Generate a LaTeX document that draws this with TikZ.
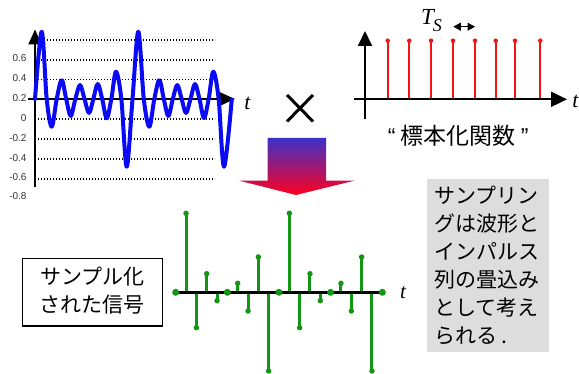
\documentclass[tikz,border=0pt]{standalone}
\usepackage{fontspec}
\setsansfont{Liberation Sans}
\newfontfamily\jp{Noto Sans CJK JP}
\newfontfamily\tms{Liberation Serif}
\usetikzlibrary{arrows.meta}
\definecolor{wavecol}{RGB}{10,10,245}
\definecolor{sampcol}{RGB}{20,150,20}
\definecolor{impcol}{RGB}{245,20,20}
\definecolor{boxgray}{RGB}{221,221,221}
\definecolor{arrtop}{RGB}{60,50,200}
\definecolor{arrmid}{RGB}{200,35,130}
\definecolor{arrbot}{RGB}{255,0,30}
\begin{document}
\begin{tikzpicture}[x=1pt,y=-1pt,
  axisarrow/.style={line width=2pt,-{Triangle[length=15pt,width=13pt]}},
  gridline/.style={line width=1.3pt,dash pattern=on 1.2pt off 1.8pt},
  ticklbl/.style={font=\sffamily\fontsize{10}{10}\selectfont,text=black!80,anchor=east,inner sep=0pt},
  tlbl/.style={font=\tms\itshape\fontsize{22}{22}\selectfont,inner sep=0pt,anchor=base},
  jptext/.style={font=\jp\fontsize{21}{28}\selectfont,inner sep=0pt},
  stem/.style={sampcol,line width=3pt},
  enddot/.style={circle,fill=sampcol,inner sep=0pt,minimum size=5.5pt},
  zerodot/.style={circle,fill=sampcol,inner sep=0pt,minimum size=7pt},
  redstem/.style={impcol,line width=1.7pt},
  reddot/.style={circle,fill=impcol,inner sep=0pt,minimum size=4.5pt}]
\useasboundingbox (0,0) rectangle (579,374);

% ---------- top-left: waveform ----------
\foreach \yy in {40,60,79.3,119,139,159,179}
  \draw[gridline] (35,\yy) -- (215,\yy);
\node[ticklbl] (l06) at (26.7,58) {0.6};
\node[ticklbl] (l04) at (26.7,78) {0.4};
\node[ticklbl] (l02) at (26.7,98) {0.2};
\node[ticklbl] (l00) at (26.7,118) {0};
\node[ticklbl] (lm02) at (26.7,138) {-0.2};
\node[ticklbl] (lm04) at (26.7,158) {-0.4};
\node[ticklbl] (lm06) at (26.7,177.5) {-0.6};
\node[ticklbl] (lm08) at (26.7,196.3) {-0.8};
\coordinate (wyb) at (35,186.7);
\coordinate (wyt) at (35,29.5);
\coordinate (wxl) at (28,99);
\coordinate (wxr) at (235,99);
\draw[axisarrow] (wyb) -- (wyt);
\draw[axisarrow] (wxl) -- (wxr);
\node[tlbl] (wt) at (247.5,109.5) {t};
\draw[wavecol,line width=4pt,line join=round,line cap=round]
  plot[smooth,tension=0.55] coordinates {
  (35,99) (41.7,31.7) (46.7,99) (51.7,126.7) (56.7,99) (61.7,80) (66.2,99)
  (70.7,116) (75.35,99) (80,85) (84.5,99) (89,113) (93.35,99) (97.7,84)
  (102.2,99) (106.7,118.3) (111.35,99) (116,71.7) (121.35,99) (126.7,166.7)
  (132.5,99) (138.3,31.7) (143.8,99) (149.3,126.7) (154.3,99) (159.3,80)
  (163.8,99) (168.3,116) (172.8,99) (177.3,85) (181.65,99) (186,113)
  (190.5,99) (195,84) (199.5,99) (204,118) (208.65,99) (213.3,71.7)
  (218.65,99) (224,166.7) (231.7,100)};

% ---------- times sign ----------
\coordinate (xa) at (287,95);
\coordinate (xb) at (313,121.5);
\coordinate (xc) at (313,95);
\coordinate (xd) at (287,121.5);
\draw[line width=3pt] (xa) -- (xb) (xc) -- (xd);

% ---------- top-right: impulse train ----------
\foreach \x [count=\i] in {387.7,409.3,431,453,475,495.7,515,540.3}{
  \coordinate (rb\i) at (\x,99.3);
  \node[reddot] (rt\i) at (\x,40.7) {};
  \draw[redstem] (rb\i) -- (rt\i.center);
}
\coordinate (iyb) at (365,119.3);
\coordinate (iyt) at (365,31);
\coordinate (ixl) at (354,99.3);
\coordinate (ixr) at (567,99.3);
\draw[line width=2pt,-{Triangle[length=15pt,width=14pt]}] (iyb) -- (iyt);
\draw[line width=2pt,-{Triangle[length=16pt,width=15pt]}] (ixl) -- (ixr);
\node[tlbl] (it) at (575.5,107.5) {t};
\node[font=\tms\itshape\fontsize{23}{23}\selectfont,inner sep=0pt,anchor=base west] (ts)
  at (421,25) {T\kern-1pt\raisebox{-7pt}{\fontsize{18}{18}\selectfont S}};
\coordinate (tsa) at (453.3,26.7);
\coordinate (tsb) at (475,26.7);
\draw[line width=1.2pt,{Triangle[length=7.5pt,width=8pt]}-{Triangle[length=7.5pt,width=8pt]}] (tsa) -- (tsb);
\node[font=\jp\fontsize{23}{23}\selectfont,inner sep=0pt,anchor=base] (sfn) at (458.3,145)
  {{\sffamily “} 標本化関数 {\sffamily ”}};

% ---------- gradient arrow ----------
\shade[top color=arrtop,middle color=arrmid,bottom color=arrbot]
  (267.7,138) -- (326,138) -- (326,180.7) -- (354.3,180.7) -- (296,195)
  -- (239.3,180.7) -- (267.7,180.7) -- cycle;

% ---------- sampled signal ----------
\foreach \k/\v in {1/79,2/-35.4,3/18.6,4/-8.4,6/9,7/-18.7,8/35.3,9/-78.7,
                   11/79,12/-35.4,13/18.6,14/-8.4,16/9,17/-18.7,18/35.3,19/-78.7}{
  \pgfmathsetmacro{\sx}{175.7+10.33*\k}
  \pgfmathsetmacro{\sy}{292.3-\v}
  \coordinate (sb\k) at (\sx,292.3);
  \node[enddot] (se\k) at (\sx,\sy) {};
  \draw[stem] (sb\k) -- (se\k.center);
}
\coordinate (sal) at (175.7,292.3);
\coordinate (sar) at (382.3,292.3);
\draw[line width=3pt] (sal) -- (sar);
\foreach \k in {0,5,10,15,20}{
  \pgfmathsetmacro{\sx}{175.7+10.33*\k}
  \node[zerodot] (sz\k) at (\sx,292.3) {};
}
\node[tlbl,font=\tms\itshape\fontsize{21}{21}\selectfont] (st) at (403,298.5) {t};

% ---------- label box ----------
\node[draw,line width=1.3pt,minimum width=140pt,minimum height=67.7pt,inner sep=0pt] (sbox) at (92.3,292.2) {};
\node[jptext,align=center,anchor=north] (stext) at (92.3,266.7) {サンプル化\\された信号};

% ---------- grey note ----------
\node[fill=boxgray,minimum width=122.3pt,minimum height=172.7pt,inner sep=0pt,anchor=north west] (gbox) at (426.7,179) {};
\node[jptext,align=left,anchor=north west] (gtext) at (434,186)
  {サンプリン\\グは波形と\\インパルス\\列の畳込み\\として考え\\られる .};
\end{tikzpicture}
\end{document}
